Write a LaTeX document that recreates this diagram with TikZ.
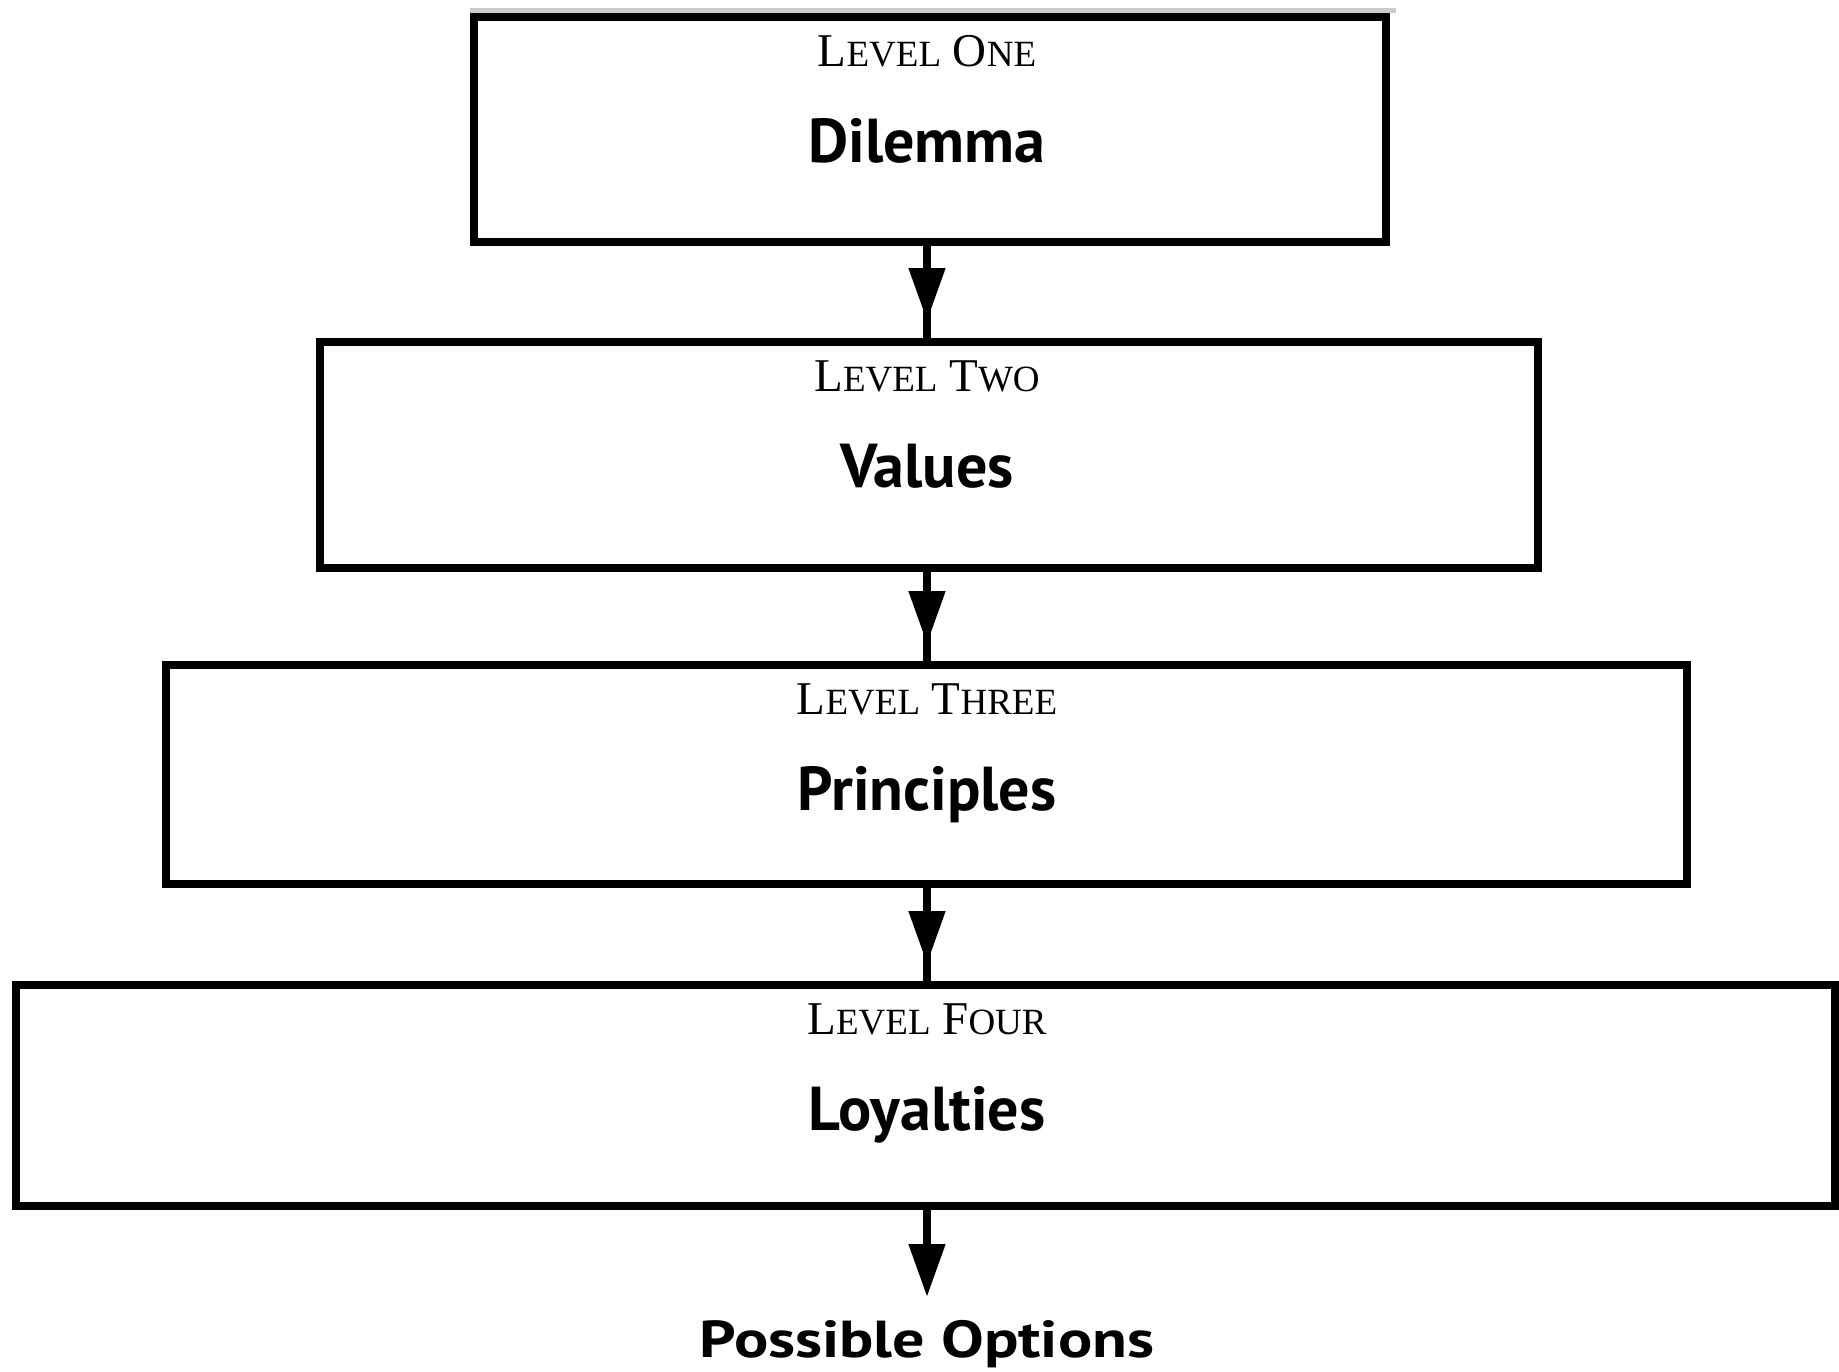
\documentclass[tikz,border=0pt]{standalone}
\usepackage{fontspec}
\usetikzlibrary{arrows.meta}
\newfontfamily\lvlfont{Liberation Serif}
\newfontfamily\mainsans{PT Sans}
\newcommand\bigc[1]{{\fontsize{47}{50}\selectfont #1}}
\newcommand\smc[1]{{\fontsize{37}{40}\selectfont #1}}
\tikzset{
  x=1pt, y=-1pt,
  levelbox/.style={draw=black, line width=8pt, rectangle, inner sep=0pt},
  lvllabel/.style={anchor=base, inner sep=0pt, font=\lvlfont\fontsize{47}{50}\selectfont},
  maintext/.style={anchor=base, inner sep=0pt, font=\mainsans\bfseries\fontsize{62}{66}\selectfont},
  conn/.style={line width=8pt, draw=black},
  tipline/.style={line width=8pt, -{Triangle[length=53pt, width=35pt]}},
}
\begin{document}
\begin{tikzpicture}
\useasboundingbox (0,0) rectangle (1839,1371);
\fill[white] (0,0) rectangle (1839,1371);
\coordinate (axis) at (927,0);
% faint scan line above the first box
\draw[line width=5pt, black!20] (470,10.5) -- (1396,10.5);
% boxes
\node[levelbox, minimum width=912pt, minimum height=225pt] (b1) at (930,129.5) {};
\node[levelbox, minimum width=1218pt, minimum height=226pt] (b2) at (929,455) {};
\node[levelbox, minimum width=1521pt, minimum height=219pt] (b3) at (926.5,774.5) {};
\node[levelbox, minimum width=1819pt, minimum height=221pt] (b4) at (925.5,1095.5) {};
% labels
\node[lvllabel] (l1) at ([yshift=-53pt]b1.north -| axis) {\bigc{L}\smc{EVEL} \bigc{O}\smc{NE}};
\node[maintext] (t1) at ([yshift=-149pt]b1.north -| axis) {Dilemma};
\node[lvllabel] (l2) at ([yshift=-53pt]b2.north -| axis) {\bigc{L}\smc{EVEL} \bigc{T}\smc{WO}};
\node[maintext] (t2) at ([yshift=-149pt]b2.north -| axis) {Values};
\node[lvllabel] (l3) at ([yshift=-53pt]b3.north -| axis) {\bigc{L}\smc{EVEL} \bigc{T}\smc{HREE}};
\node[maintext] (t3) at ([yshift=-149pt]b3.north -| axis) {Principles};
\node[lvllabel] (l4) at ([yshift=-53pt]b4.north -| axis) {\bigc{L}\smc{EVEL} \bigc{F}\smc{OUR}};
\node[maintext] (t4) at ([yshift=-149pt]b4.north -| axis) {Loyalties};
\node[anchor=base, inner sep=0pt, font=\mainsans\bfseries\fontsize{52}{56}\selectfont] (opt) at (927,1357) {\scalebox{1.23}[1]{Possible Options}};
\coordinate (optTip) at (927,1297);
% connectors
\foreach \a/\b in {b1/b2, b2/b3, b3/b4}{
  \draw[conn] (\a.south -| axis) -- (\b.north -| axis);
  \draw[tipline] (\a.south -| axis) -- ([yshift=17pt]\b.north -| axis);
}
\draw[tipline] (b4.south -| axis) -- (optTip);
\end{tikzpicture}
\end{document}
